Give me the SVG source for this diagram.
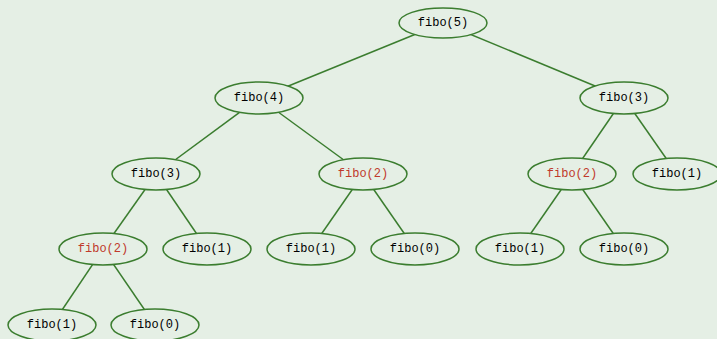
<svg xmlns="http://www.w3.org/2000/svg" width="717" height="339" viewBox="0 0 717 339">
<style>
.bg{fill:#e5efe5}
.e line{stroke:#3b7d2f;stroke-width:1.5}
.n ellipse{fill:#e5efe5;stroke:#3b7d2f;stroke-width:1.5}
.n text{font-family:"Liberation Mono","DejaVu Sans Mono",monospace;font-size:12px;fill:#000;text-anchor:middle;dominant-baseline:central}
.n text.r{fill:#c0392b}
</style>
<rect class="bg" width="717" height="339"/>
<g id="edges" class="e">
<line x1="443" y1="23" x2="259" y2="98"/>
<line x1="443" y1="23" x2="624" y2="98"/>
<line x1="259" y1="98" x2="156" y2="174"/>
<line x1="259" y1="98" x2="363" y2="174"/>
<line x1="624" y1="98" x2="572" y2="174"/>
<line x1="624" y1="98" x2="677" y2="174"/>
<line x1="156" y1="174" x2="103" y2="249"/>
<line x1="156" y1="174" x2="207" y2="249"/>
<line x1="363" y1="174" x2="311" y2="249"/>
<line x1="363" y1="174" x2="415" y2="249"/>
<line x1="572" y1="174" x2="520" y2="249"/>
<line x1="572" y1="174" x2="624" y2="249"/>
<line x1="103" y1="249" x2="52" y2="325"/>
<line x1="103" y1="249" x2="155" y2="325"/>
</g>
<g id="n5" class="n"><ellipse cx="443" cy="23" rx="44" ry="15"/><text x="443" y="23">fibo(5)</text></g>
<g id="n4" class="n"><ellipse cx="259" cy="98" rx="44" ry="16"/><text x="259" y="98">fibo(4)</text></g>
<g id="n3r" class="n"><ellipse cx="624" cy="98" rx="44" ry="16"/><text x="624" y="98">fibo(3)</text></g>
<g id="n3l" class="n"><ellipse cx="156" cy="174" rx="44" ry="16"/><text x="156" y="174">fibo(3)</text></g>
<g id="n2m" class="n"><ellipse cx="363" cy="174" rx="44" ry="16"/><text class="r" x="363" y="174">fibo(2)</text></g>
<g id="n2r" class="n"><ellipse cx="572" cy="174" rx="44" ry="16"/><text class="r" x="572" y="174">fibo(2)</text></g>
<g id="n1rr" class="n"><ellipse cx="677" cy="174" rx="44" ry="16"/><text x="677" y="174">fibo(1)</text></g>
<g id="n2l" class="n"><ellipse cx="103" cy="249" rx="44" ry="16"/><text class="r" x="103" y="249">fibo(2)</text></g>
<g id="n1l" class="n"><ellipse cx="207" cy="249" rx="44" ry="16"/><text x="207" y="249">fibo(1)</text></g>
<g id="n1m" class="n"><ellipse cx="311" cy="249" rx="44" ry="16"/><text x="311" y="249">fibo(1)</text></g>
<g id="n0m" class="n"><ellipse cx="415" cy="249" rx="44" ry="16"/><text x="415" y="249">fibo(0)</text></g>
<g id="n1r" class="n"><ellipse cx="520" cy="249" rx="44" ry="16"/><text x="520" y="249">fibo(1)</text></g>
<g id="n0r" class="n"><ellipse cx="624" cy="249" rx="44" ry="16"/><text x="624" y="249">fibo(0)</text></g>
<g id="n1b" class="n"><ellipse cx="52" cy="325" rx="44" ry="16"/><text x="52" y="325">fibo(1)</text></g>
<g id="n0b" class="n"><ellipse cx="155" cy="325" rx="44" ry="16"/><text x="155" y="325">fibo(0)</text></g>
</svg>
